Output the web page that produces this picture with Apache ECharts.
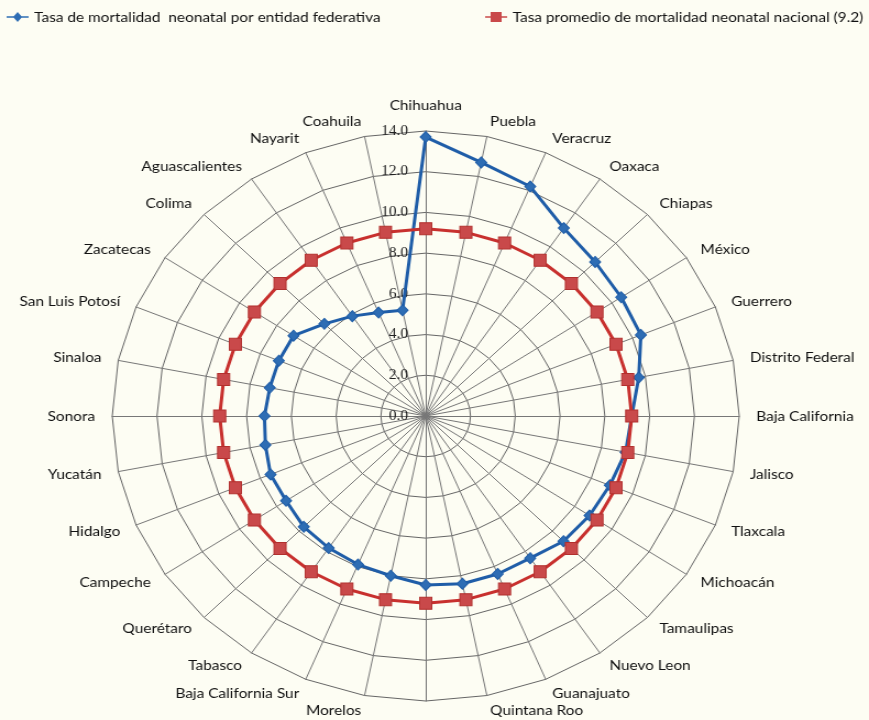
<!DOCTYPE html>
<html>
<head>
<meta charset="utf-8">
<script src="https://cdn.jsdelivr.net/npm/echarts@6/dist/echarts.min.js"></script>
<style>
html,body{margin:0;padding:0;background:#FDFDF3;overflow:hidden;}
#wrap{width:869px;height:720px;overflow:hidden;}
#chart{width:790px;height:720px;transform:scaleX(1.1);transform-origin:0 0;}
</style>
</head>
<body>
<div id="wrap"><div id="chart"></div></div>
<script>
// Categories in clockwise order starting at the top
const categories = ['Chihuahua','Puebla','Veracruz','Oaxaca','Chiapas','México','Guerrero','Distrito Federal','Baja California','Jalisco','Tlaxcala','Michoacán','Tamaulipas','Nuevo Leon','Guanajuato','Quintana Roo','Durango','Morelos','Baja California Sur','Tabasco','Querétaro','Campeche','Hidalgo','Yucatán','Sonora','Sinaloa','San Luis Potosí','Zacatecas','Colima','Aguascalientes','Nayarit','Coahuila'];
const tasaEntidad = [13.7,12.7,12.2,11.1,10.7,10.5,10.4,9.7,9.2,9.1,8.9,8.8,8.7,8.4,8.4,8.4,8.3,8.0,7.9,7.8,7.7,7.5,7.5,7.3,7.2,7.1,7.1,7.1,6.4,5.9,5.5,5.3];
const tasaNacional = [9.2,9.2,9.2,9.2,9.2,9.2,9.2,9.2,9.2,9.2,9.2,9.2,9.2,9.2,9.2,9.2,9.2,9.2,9.2,9.2,9.2,9.2,9.2,9.2,9.2,9.2,9.2,9.2,9.2,9.2,9.2,9.2];
const seriesNames = ['Tasa de mortalidad  neonatal por entidad federativa','Tasa promedio de mortalidad neonatal nacional (9.2)'];
const axisMax = 14;
const hiddenLabels = ['Durango']; // falls below the frame in the reference

// ECharts radar runs counter-clockwise: keep first item, reverse the rest
function toCCW(arr){ return [arr[0]].concat(arr.slice(1).reverse()); }

const indicators = toCCW(categories).map((n,i)=>{
  const ind = {name:n, min:0, max:axisMax};
  if(i===0){
    ind.axisLabel = {show:true};
    ind.nameGap = 19;
    ind.nameMoveOverlap = false;
    ind.nameTextStyle = {align:'center', verticalAlign:'bottom'};
  }
  return ind;
});

const chart = echarts.init(document.getElementById('chart'));
const font = 'Lato, "Open Sans", sans-serif';
const blueIcon = 'path://M0,4.2 L6.5,4.2 L10,0 L13.5,4.2 L20,4.2 L20,5.8 L13.5,5.8 L10,10 L6.5,5.8 L0,5.8 Z';
const redIcon = 'path://M0,4.2 L5,4.2 L5,0 L15,0 L15,4.2 L20,4.2 L20,5.8 L15,5.8 L15,10 L5,10 L5,5.8 L0,5.8 Z';
chart.setOption({
  backgroundColor:'#FDFDF3',
  animation:false,
  legend:[
    {left:1, top:5, itemWidth:20, itemHeight:10, data:[{name:seriesNames[0], icon:blueIcon}],
     itemStyle:{borderWidth:0}, textStyle:{fontFamily:font,fontSize:14,color:'#111'}},
    {left:436, top:5, itemWidth:20, itemHeight:10, data:[{name:seriesNames[1], icon:redIcon}],
     itemStyle:{borderWidth:0}, textStyle:{fontFamily:font,fontSize:14,color:'#111'}}
  ],
  radar:{
    center:[387,416],
    radius:285,
    startAngle:90,
    splitNumber:7,
    shape:'polygon',
    indicator:indicators,
    axisName:{color:'#111', fontFamily:font, fontSize:14,
      formatter:(n)=> hiddenLabels.indexOf(n)>=0 ? '' : n},
    axisNameGap:15.5,
    axisLine:{lineStyle:{color:'#777',width:1}},
    splitLine:{lineStyle:{color:'#666',width:1}},
    splitArea:{show:false},
    axisTick:{show:false},
    axisLabel:{show:false, margin:16, color:'#222', fontFamily:'"Liberation Serif", serif', fontSize:14,
      formatter:(v)=>Number(v).toFixed(1)}
  },
  series:[{
    type:'radar',
    z:2,
    data:[{
      name:seriesNames[0],
      value:toCCW(tasaEntidad),
      symbol:'diamond', symbolSize:[10,11],
      lineStyle:{color:'#1F5DA8',width:3},
      itemStyle:{color:'#2E6DB4',borderColor:'#1F5DA8',borderWidth:1}
    }]
  },{
    type:'radar',
    z:3,
    data:[{
      name:seriesNames[1],
      value:toCCW(tasaNacional),
      symbol:'rect', symbolSize:[11,12],
      lineStyle:{color:'#C8302E',width:3},
      itemStyle:{color:'#C9494A',borderColor:'#B2302E',borderWidth:1}
    }]
  }]
});
</script>
</body>
</html>
